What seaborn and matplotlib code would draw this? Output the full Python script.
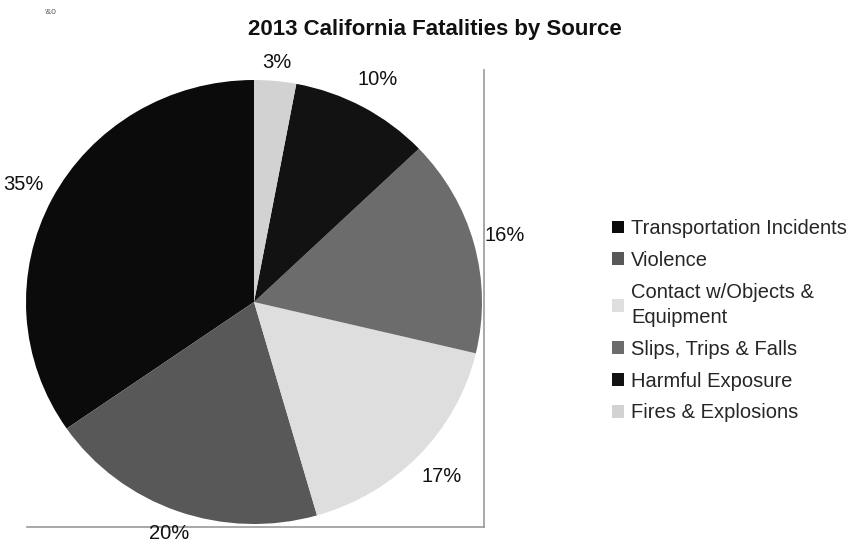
import matplotlib
matplotlib.use("Agg")
import matplotlib.pyplot as plt
import seaborn as sns

# Data
sources = ["Transportation Incidents", "Violence", "Contact w/Objects &\nEquipment",
           "Slips, Trips & Falls", "Harmful Exposure", "Fires & Explosions"]
shares = [35, 20, 17, 16, 10, 3]
colors = ["#0b0b0b", "#585858", "#dedede", "#6c6c6c", "#121212", "#d2d2d2"]

sns.set_theme(style="white")
plt.rcParams['font.family'] = ['Liberation Sans', 'DejaVu Sans']

fig = plt.figure(figsize=(8.67, 5.46), dpi=100)
W, H = 867, 546
# pie is a bit squashed in the scan, so separate x / y radii (pixels)
RX, RY = 228.0, 222.0
cx, cy = 254, 302
left, right, top, bottom = 27, 484, 70, 527
ax = fig.add_axes([left / W, (H - bottom) / H, (right - left) / W, (bottom - top) / H])

wedges, texts, autotexts = ax.pie(shares, colors=colors, startangle=90, counterclock=True,
                                  autopct='%.0f%%', pctdistance=1.14, frame=True,
                                  textprops=dict(fontsize=14.5, color="#111111"))
for w in wedges:
    w.set_clip_on(False)
    w.set_linewidth(0)
for t in autotexts:
    t.set_clip_on(False)
# bottom and top labels sit a little closer to the pie
for i, k in [(1, 0.97), (5, 0.95)]:
    px, py = autotexts[i].get_position()
    autotexts[i].set_position((px * k, py * k))

ax.set_aspect('auto')
ax.set_xlim((left - cx) / RX, (right - cx) / RX)
ax.set_ylim((cy - bottom) / RY, (cy - top) / RY)
ax.set_xticks([])
ax.set_yticks([])
for s in ["top", "left"]:
    ax.spines[s].set_visible(False)
for s in ["right", "bottom"]:
    ax.spines[s].set_color("#9a9a9a")
    ax.spines[s].set_linewidth(1.2)

fig.text(435 / W, 1 - 30 / H, "2013 California Fatalities by Source", ha="center", va="center",
         fontsize=16, fontweight="bold", color="#111111")
# small scan mark in the top-left corner
fig.text(50 / W, 1 - 12 / H, "'&0", ha="center", va="center", fontsize=6, color="#555555")

leg = fig.legend(wedges, sources, loc="upper left", bbox_to_anchor=(612 / W, 1 - 219 / H),
                 frameon=False, fontsize=14.5, handlelength=0.6, handleheight=0.6,
                 handletextpad=0.35, labelspacing=0.64, borderaxespad=0, borderpad=0)
for t in leg.get_texts():
    t.set_linespacing(1.4)

fig.savefig("out.png", dpi=100)
